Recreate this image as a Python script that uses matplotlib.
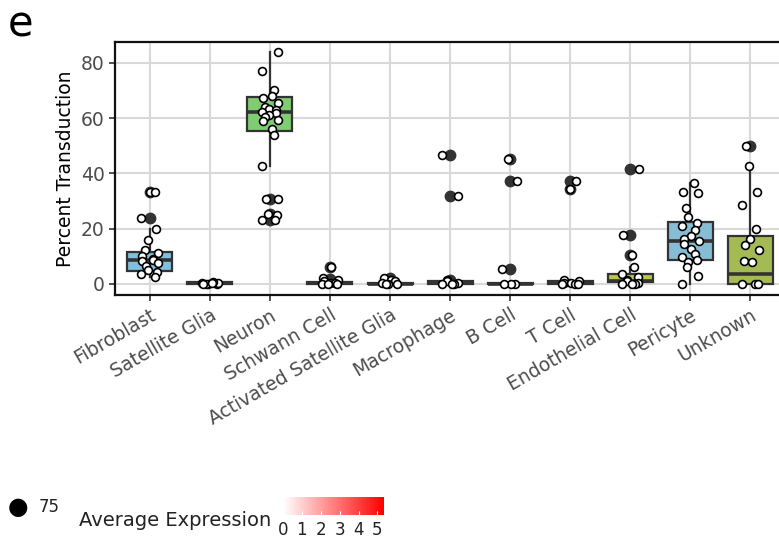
import numpy as np
import matplotlib
matplotlib.use("Agg")
import matplotlib.pyplot as plt
from matplotlib.colors import LinearSegmentedColormap

# cell types on the x axis
cell_types = ["Fibroblast", "Satellite Glia", "Neuron", "Schwann Cell",
              "Activated Satellite Glia", "Macrophage", "B Cell", "T Cell",
              "Endothelial Cell", "Pericyte", "Unknown"]

# individual sample values (percent transduction)
fibroblast = [33.2, 33.2, 24.0, 19.8, 15.8, 12.3, 11.3, 10.2, 9.0, 8.7, 8.2, 7.5, 6.5, 5.0, 4.2, 3.5, 2.6]
satellite_glia = [0, 0, 0, 0.3, 0.5, 0.8, 0.2, 0]
neuron = [83.9, 77.2, 70.1, 68.0, 67.5, 65.5, 64.2, 63.5, 63.0, 62.4, 62.0, 61.0, 60.3,
          59.5, 59.0, 56.2, 53.9, 42.7, 30.7, 30.7, 25.5, 25.0, 23.0, 23.0]
schwann = [6.0, 2.0, 1.5, 1.0, 0.5, 0.3, 0, 0, 0]
activated_sg = [2.0, 1.5, 1.0, 0.5, 0, 0, 0]
macrophage = [46.7, 31.9, 1.5, 1.0, 0.5, 0, 0, 0]
b_cell = [45.4, 37.4, 5.4, 0, 0, 0]
t_cell = [37.3, 34.2, 1.5, 1.0, 0.5, 0.2, 0, 0, 0]
endothelial = [41.7, 17.7, 10.4, 6.0, 3.5, 2.5, 1.5, 1.0, 0.5, 0, 0, 0]
pericyte = [36.4, 33.2, 33.0, 27.6, 24.3, 22.0, 21.0, 19.4, 17.5, 16.2, 15.4, 14.5, 12.7,
            11.0, 9.8, 8.8, 8.0, 6.0, 2.7, 0.0]
unknown = [50.0, 42.7, 33.2, 28.6, 19.9, 16.4, 14.2, 12.4, 8.3, 7.8, 0, 0, 0]
points = [fibroblast, satellite_glia, neuron, schwann, activated_sg, macrophage,
          b_cell, t_cell, endothelial, pericyte, unknown]

# box statistics
q1 = [4.8, 0, 55.5, 0, 0, 0, 0, 0, 0.8, 8.5, 0]
med = [8.7, 0.2, 62.4, 0.3, 0, 0.3, 0, 0.3, 1.2, 15.4, 3.7]
q3 = [11.7, 0.6, 67.6, 0.8, 0.5, 1.0, 0.4, 1.0, 3.5, 22.3, 17.3]
whislo = [2.6, 0, 42.7, 0, 0, 0, 0, 0, 0, 0, 0]
whishi = [19.8, 0.8, 83.9, 2.0, 1.2, 1.5, 0.5, 1.5, 6.0, 36.4, 42.7]
fliers = [[33.2, 24.0], [], [30.7, 25.5, 23.0], [6.0, 1.8], [2.0], [46.7, 31.9, 1.5],
          [45.4, 37.4, 5.4], [37.3, 34.2], [41.7, 17.7, 10.4], [], [50.0]]
box_colors = ["#80bfdd", "#333333", "#80cc72", "#333333", "#333333", "#333333",
              "#333333", "#333333", "#bcc64c", "#86bdd4", "#a4ba55"]

fig = plt.figure(figsize=(7.79, 5.39), dpi=100)
ax = fig.add_axes([0.1476, 0.4527, 0.858, 0.4694])

stats = []
for i in range(len(cell_types)):
    stats.append(dict(q1=q1[i], med=med[i], q3=q3[i], whislo=whislo[i],
                      whishi=whishi[i], fliers=fliers[i]))
bp = ax.bxp(stats, positions=range(len(cell_types)), widths=0.75, patch_artist=True,
            showcaps=False, zorder=3,
            boxprops=dict(edgecolor="#333333", linewidth=1.6),
            medianprops=dict(color="#333333", linewidth=2.6),
            whiskerprops=dict(color="#333333", linewidth=1.6),
            flierprops=dict(marker="o", markerfacecolor="#333333", markeredgecolor="#333333",
                            markersize=7.5))
for patch, c in zip(bp["boxes"], box_colors):
    patch.set_facecolor(c)

# jittered points
for i, vals in enumerate(points):
    n = len(vals)
    offs = 0.14 * np.sin(np.arange(n) * 2.4 + i)
    ax.scatter(i + offs, vals, s=32, facecolor="white", edgecolor="black",
               linewidth=1.2, zorder=4)

ax.set_xlim(-0.58, 10.55)
ax.set_ylim(-4, 87.6)
ax.set_yticks([0, 20, 40, 60, 80])
ax.set_xticks(range(len(cell_types)))
ax.set_xticklabels(cell_types, rotation=30, ha="right", rotation_mode="anchor")
ax.tick_params(axis="both", labelsize=13.5, labelcolor="#4d4d4d", color="#333333",
               length=4, width=1.2)
ax.grid(True, color="#d9d9d9", linewidth=1.5)
ax.set_axisbelow(True)
for s in ax.spines.values():
    s.set_linewidth(1.6)
    s.set_color("#111111")
ax.set_ylabel("Percent Transduction", fontsize=13.5)

fig.text(0.01, 0.955, "e", fontsize=30, va="center")

# legend at the bottom
fig.text(0.023, 0.059, "\u25CF", fontsize=17, va="center", ha="center")
fig.text(0.05, 0.059, "75", fontsize=12, va="center", color="#222222")
fig.text(0.102, 0.035, "Average Expression", fontsize=14, va="center", color="#222222")
cax = fig.add_axes([0.3633, 0.0445, 0.1284, 0.0334])
cmap = LinearSegmentedColormap.from_list("wr", ["#ffffff", "#ff0000"])
grad = np.linspace(0, 5.3, 200).reshape(1, -1)
cax.imshow(grad, aspect="auto", cmap=cmap, extent=[0, 5.3, 0, 1])
cax.set_yticks([])
cax.set_xticks([0, 1, 2, 3, 4, 5])
cax.tick_params(axis="x", direction="in", color="white", length=3, labelsize=12,
                labelcolor="#222222", pad=4)
for s in cax.spines.values():
    s.set_visible(False)

fig.savefig("out.png", dpi=100)
